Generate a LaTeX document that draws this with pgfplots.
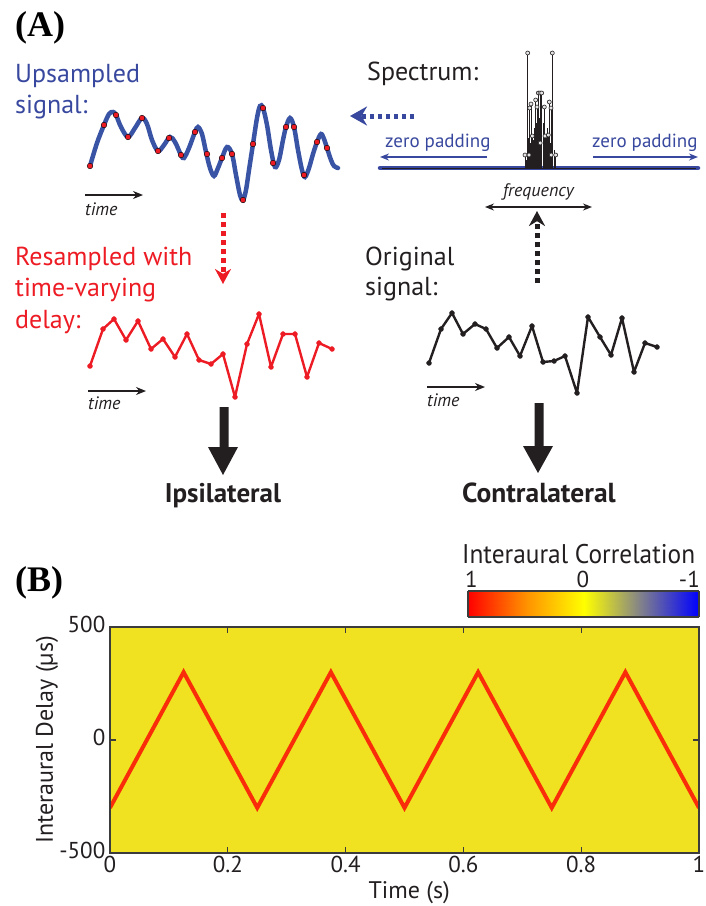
\documentclass[border=0pt]{standalone}
\usepackage{fontspec}
\setmainfont{PT Sans}
\newfontfamily\timesfont{Liberation Serif}
\usepackage{pgfplots}
\pgfplotsset{compat=1.18}
\usetikzlibrary{arrows.meta}
\definecolor{sigblue}{RGB}{58,84,165}
\definecolor{txtblue}{RGB}{56,72,158}
\definecolor{sigred}{RGB}{237,28,36}
\definecolor{ink}{RGB}{35,31,32}
\definecolor{heat}{RGB}{240,226,32}
\definecolor{trired}{RGB}{250,45,10}
\definecolor{barframe}{RGB}{60,60,60}
\newcommand{\fs}[1]{\fontsize{#1}{#1}\selectfont}
\begin{document}
\begin{tikzpicture}[x=1pt,y=1pt]
\useasboundingbox (0,0) rectangle (706,906);
% ---------------- panel A canvas (pixel coordinates, y downwards)
\begin{axis}[at={(0pt,0pt)}, anchor=south west, width=706pt, height=906pt, scale only axis,
  xmin=0, xmax=706, ymin=0, ymax=906, y dir=reverse, hide axis, clip=false]
% upsampled signal
\addplot[sigblue, line width=4.5pt, smooth, tension=0.55, line cap=round] coordinates {
(90,166) (97,143) (104,125) (109,114) (113,112) (116,115) (121,127) (128,137) (135,128)
(142,118) (147,124) (152,140) (158,151) (164,145) (170,137) (175,142) (181,155) (184,158)
(189,148) (195,132) (198,127) (202,134) (206,152) (210,168) (214,176) (218,168) (222,158)
(227,147) (232,154) (236,175) (240,195) (243,200) (246,190) (249,170) (253,144) (257,118)
(260,106) (263,108) (267,125) (271,150) (275,167) (279,160) (283,140) (286,127) (290,118)
(294,127) (298,150) (302,170) (305,177) (309,168) (313,154) (317,142) (321,134) (324,139)
(327,148) (331,160) (334,166) (338,168)};
\addplot[only marks, mark=*, mark size=2.8pt, mark options={draw=none, fill=sigred}] coordinates {
(90,166) (104,125) (116,115) (128,137) (142,118) (158,151) (169,138) (181,155) (195,132)
(207,154) (222,158) (232,154) (243,200) (253,144) (263,108) (273,163) (286,127) (294,127)
(304,175) (317,142) (327,148)};
% resampled signal
\addplot[sigred, line width=2.4pt, line join=round, mark=*, mark size=1.8pt] coordinates {
(90,366) (103,329) (114,319) (126,340) (138,321) (151,349) (163,339) (175,357) (187,334)
(199,360) (211,364) (223,354) (235,397) (247,344) (259,314) (271,367) (283,334) (295,334)
(307,377) (319,343) (332,349)};
% original signal
\addplot[ink, line width=2.4pt, line join=round, mark=*, mark size=1.8pt] coordinates {
(429,363) (441,329) (452,313) (463,334) (475,324) (486,329) (497,348) (509,337) (520,356)
(532,326) (543,362) (554,361) (565,356) (577,393) (588,317) (600,337) (611,355) (622,318)
(634,372) (645,343) (657,347)};
% labels
\node[anchor=base west, inner sep=0, font=\timesfont\bfseries\fs{36}] at (15,36) {(A)};
\node[anchor=base west, inner sep=0, font=\fs{26}, text=txtblue] at (15,82) {Upsampled};
\node[anchor=base west, inner sep=0, font=\fs{26}, text=txtblue] at (15,113) {signal:};
\node[anchor=base west, inner sep=0, font=\fs{26}, text=ink] at (367,80) {Spectrum:};
\node[anchor=base west, inner sep=0, font=\fs{19}, text=txtblue] at (385,147) {zero padding};
\node[anchor=base west, inner sep=0, font=\fs{19}, text=txtblue] at (592,147) {zero padding};
\node[anchor=base west, inner sep=0, font=\itshape\fs{18}, text=ink] at (503,196) {frequency};
\node[anchor=base west, inner sep=0, font=\itshape\fs{18}, text=ink] at (85,215) {time};
\node[anchor=base west, inner sep=0, font=\itshape\fs{18}, text=ink] at (88,409) {time};
\node[anchor=base west, inner sep=0, font=\itshape\fs{18}, text=ink] at (427,406) {time};
\node[anchor=base west, inner sep=0, font=\fs{26}, text=sigred] at (15,265) {Resampled with};
\node[anchor=base west, inner sep=0, font=\fs{26}, text=sigred] at (15,296) {time-varying};
\node[anchor=base west, inner sep=0, font=\fs{26}, text=sigred] at (15,328) {delay:};
\node[anchor=base west, inner sep=0, font=\fs{26}, text=ink] at (365,265) {Original};
\node[anchor=base west, inner sep=0, font=\fs{26}, text=ink] at (365,295) {signal:};
\node[anchor=base, inner sep=0, font=\bfseries\fs{27}, text=ink] at (223,502) {Ipsilateral};
\node[anchor=base, inner sep=0, font=\bfseries\fs{27.5}, text=ink] at (539,502) {Contralateral};
% thin arrows
\draw[ink, line width=1.5pt, -{Stealth[length=10pt,width=8pt]}] (85,195) -- (143,195);
\draw[ink, line width=1.5pt, -{Stealth[length=10pt,width=8pt]}] (88,391) -- (146,391);
\draw[ink, line width=1.5pt, -{Stealth[length=10pt,width=8pt]}] (427,387) -- (485,387);
\draw[ink, line width=1.3pt, {Stealth[length=9pt,width=7pt]}-{Stealth[length=9pt,width=7pt]}] (485,207) -- (592,207);
\draw[txtblue, line width=1.5pt, -{Stealth[length=9pt,width=7pt]}] (487,157) -- (380,157);
\draw[txtblue, line width=1.5pt, -{Stealth[length=9pt,width=7pt]}] (593,157) -- (698,157);
% dotted arrows
\draw[txtblue, line width=5pt, dash pattern=on 4.5pt off 3.5pt, -{Stealth[length=17pt,width=19pt]}] (414,116) -- (350,116);
\draw[sigred, line width=5pt, dash pattern=on 5pt off 4pt, -{Stealth[length=15pt,width=16pt]}] (223,213) -- (223,284);
\draw[ink, line width=5pt, dash pattern=on 5pt off 4pt, -{Stealth[length=15pt,width=16pt]}] (537,283) -- (537,211);
% big arrows
\fill[ink] (219.5,407) -- (228.5,407) -- (228.5,447) -- (238,447) -- (223,475) -- (208,447) -- (219.5,447) -- cycle;
\fill[ink] (534.5,403) -- (543.5,403) -- (543.5,446) -- (553,446) -- (538,473) -- (523,446) -- (534.5,446) -- cycle;
% spectrum baseline
\draw[txtblue, line width=4.5pt, line cap=round] (380,168) -- (698,168);
\draw[ink, line width=0.8pt] (382,168) -- (696,168);
% panel B texts
\node[anchor=base west, inner sep=0, font=\timesfont\bfseries\fs{36}] at (15,591) {(B)};
\node[anchor=base west, inner sep=0, font=\fs{27}, text=ink, xscale=0.94] at (462,563) {Interaural Correlation};
\node[anchor=base west, inner sep=0, font=\fs{23}, text=ink] at (465,587) {1};
\node[anchor=base, inner sep=0, font=\fs{23}, text=ink] at (583,587) {0};
\node[anchor=base east, inner sep=0, font=\fs{23}, text=ink] at (700,587) {-1};
\draw[barframe, line width=1pt] (583.5,590) -- (583.5,595);
\end{axis}
% ---------------- spectrum stems
\begin{axis}[at={(520pt,738pt)}, anchor=south west, width=40pt, height=120pt, scale only axis,
  xmin=520, xmax=560, ymin=0, ymax=120, hide axis, clip=false]
\addplot[ycomb, ink, line width=0.8pt] coordinates {
(526,8) (527,20) (528,30) (530.5,25) (533,28) (534,40) (536,45) (539,50) (541,50) (543,45)
(546.5,30) (547,40) (550,25) (552,20) (554,18) (555,8)};
\addplot[ycomb, ink, line width=0.8pt, mark=*, mark size=2pt, mark options={fill=gray!20, draw=ink, line width=0.6pt}] coordinates {
(525,13) (527.7,115) (529,13) (529.7,60) (531,64) (532.3,32) (535.7,68) (537,61) (538.3,75)
(540,75) (540.2,25) (541.7,75) (544.3,61) (545,32) (548.3,33) (549.3,66) (551,60) (551.2,13)
(552.3,115) (555.7,13)};
\end{axis}
% ---------------- colorbar
\begin{axis}[at={(468pt,289pt)}, anchor=south west, width=231pt, height=26pt, scale only axis,
  xmin=-1, xmax=1, ymin=0, ymax=1, zmin=-1, zmax=1, x dir=reverse, view={0}{90}, ticks=none,
  axis line style={line width=2pt, draw=barframe}, axis on top,
  colormap={corr}{rgb255=(0,0,255) rgb255=(128,128,140) rgb255=(255,255,0) rgb255=(255,145,0) rgb255=(255,0,0)}]
\addplot3[surf, shader=interp, point meta=x, mesh/cols=5] coordinates {
(-1,0,0) (-0.5,0,0) (0,0,0) (0.5,0,0) (1,0,0)
(-1,1,0) (-0.5,1,0) (0,1,0) (0.5,1,0) (1,1,0)};
\end{axis}
% ---------------- panel B
\begin{axis}[at={(110pt,53pt)}, anchor=south west, width=589pt, height=226pt, scale only axis,
  xmin=0, xmax=1, ymin=-500, ymax=500,
  xtick={0,0.2,0.4,0.6,0.8,1}, xticklabels={0,0.2,0.4,0.6,0.8,1},
  ytick={-500,0,500}, yticklabels={-500,0,500},
  tick align=inside, major tick length=6pt,
  tick style={line width=1.2pt, draw=barframe},
  axis line style={line width=1.6pt, draw=barframe},
  axis background/.style={fill=heat}, axis on top,
  ticklabel style={font=\fs{23}, text=ink},
  xticklabel style={inner sep=3pt},
  yticklabel style={inner sep=4.5pt, yshift=2.5pt},
  xlabel={Time (s)}, ylabel={Interaural Delay (µs)},
  label style={font=\fs{24}, text=ink},
  xlabel style={at={(axis description cs:0.508,0)}, anchor=base, yshift=-45pt, inner sep=0},
  ylabel style={at={(axis description cs:-0.097,0.5)}, anchor=base, inner sep=0}]
\addplot[trired, line width=4pt, line join=miter] coordinates {
(0,-300) (0.125,300) (0.25,-300) (0.375,300) (0.5,-300) (0.625,300) (0.75,-300) (0.875,300) (1,-300)};
\end{axis}
\end{tikzpicture}
\end{document}
